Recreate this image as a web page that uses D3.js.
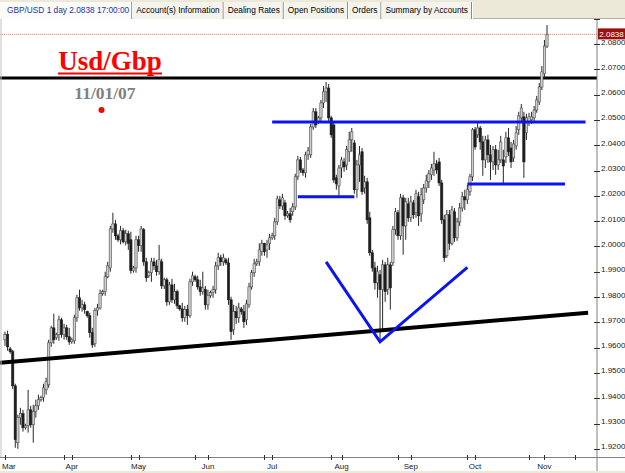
<!DOCTYPE html>
<html>
<head>
<meta charset="utf-8">
<script src="https://cdn.jsdelivr.net/npm/d3@7"></script>
<style>
  body { margin: 0; background: #fff; }
  svg { display: block; }
</style>
</head>
<body>
<div id="chart"></div>
<script>
// ---- data ----
// daily bars GBP/USD, [open, high, low, close], Mar 1 .. Nov 2 2007 (sunday bars included)
var bars = [
  [1.9631,1.9663,1.9607,1.9651],[1.9651,1.9667,1.9588,1.9603],[1.9595,1.9603,1.9576,1.9584],[1.9584,1.9591,1.9437,1.9449],
  [1.9449,1.9457,1.9204,1.9236],[1.9224,1.9335,1.9200,1.9323],[1.9323,1.9362,1.9295,1.9339],[1.9339,1.9354,1.9268,1.9283],
  [1.9283,1.9299,1.9276,1.9291],[1.9291,1.9433,1.9264,1.9354],[1.9354,1.9370,1.9283,1.9295],[1.9295,1.9374,1.9224,1.9347],
  [1.9347,1.9394,1.9323,1.9370],[1.9370,1.9414,1.9354,1.9394],[1.9394,1.9410,1.9386,1.9402],[1.9402,1.9457,1.9386,1.9441],
  [1.9433,1.9481,1.9414,1.9465],[1.9453,1.9631,1.9441,1.9619],[1.9619,1.9686,1.9603,1.9678],[1.9678,1.9734,1.9615,1.9631],
  [1.9639,1.9659,1.9631,1.9651],[1.9651,1.9726,1.9627,1.9710],[1.9710,1.9718,1.9639,1.9651],[1.9651,1.9694,1.9631,1.9678],
  [1.9678,1.9690,1.9631,1.9643],[1.9643,1.9678,1.9611,1.9623],[1.9623,1.9639,1.9615,1.9631],[1.9627,1.9730,1.9615,1.9718],
  [1.9718,1.9809,1.9702,1.9797],[1.9797,1.9829,1.9746,1.9757],[1.9757,1.9789,1.9742,1.9769],[1.9769,1.9781,1.9734,1.9750],
  [1.9742,1.9746,1.9718,1.9726],[1.9726,1.9738,1.9639,1.9659],[1.9659,1.9678,1.9599,1.9611],[1.9615,1.9757,1.9603,1.9746],
  [1.9746,1.9773,1.9726,1.9757],[1.9757,1.9829,1.9750,1.9813],[1.9813,1.9829,1.9805,1.9821],[1.9821,1.9900,1.9805,1.9880],
  [1.9880,1.9939,1.9874,1.9923],[1.9915,2.0081,1.9900,2.0069],[2.0069,2.0133,2.0054,2.0089],[2.0089,2.0105,2.0026,2.0042],
  [2.0042,2.0050,2.0018,2.0026],[2.0026,2.0081,2.0008,2.0062],[2.0062,2.0073,2.0012,2.0018],[2.0018,2.0066,2.0004,2.0050],
  [2.0050,2.0062,1.9986,2.0012],[2.0026,2.0058,1.9892,1.9904],[1.9904,1.9923,1.9896,1.9915],[1.9915,2.0042,1.9896,2.0026],
  [2.0026,2.0042,1.9979,2.0004],[2.0004,2.0081,1.9979,2.0069],[2.0066,2.0073,1.9923,1.9939],[1.9939,1.9955,1.9860,1.9876],
  [1.9884,1.9904,1.9876,1.9896],[1.9896,1.9955,1.9860,1.9939],[1.9939,1.9955,1.9907,1.9923],[1.9923,1.9947,1.9884,1.9900],
  [1.9900,2.0006,1.9888,1.9947],[1.9939,1.9951,1.9832,1.9844],[1.9844,1.9876,1.9832,1.9868],[1.9868,1.9876,1.9765,1.9781],
  [1.9781,1.9860,1.9769,1.9848],[1.9848,1.9872,1.9777,1.9789],[1.9789,1.9852,1.9773,1.9821],[1.9821,1.9829,1.9753,1.9765],
  [1.9765,1.9769,1.9746,1.9753],[1.9753,1.9777,1.9702,1.9718],[1.9718,1.9765,1.9702,1.9750],[1.9750,1.9769,1.9690,1.9726],
  [1.9726,1.9872,1.9718,1.9860],[1.9860,1.9900,1.9844,1.9884],[1.9880,1.9888,1.9860,1.9868],[1.9868,1.9884,1.9829,1.9840],
  [1.9840,1.9868,1.9805,1.9821],[1.9821,1.9900,1.9809,1.9836],[1.9829,1.9844,1.9750,1.9769],[1.9769,1.9829,1.9750,1.9805],
  [1.9805,1.9825,1.9797,1.9817],[1.9817,1.9844,1.9797,1.9829],[1.9829,1.9939,1.9813,1.9923],[1.9923,1.9975,1.9907,1.9955],
  [1.9955,1.9967,1.9923,1.9939],[1.9939,1.9971,1.9923,1.9955],[1.9947,1.9955,1.9927,1.9935],[1.9935,1.9955,1.9769,1.9789],
  [1.9789,1.9801,1.9631,1.9663],[1.9671,1.9769,1.9651,1.9742],[1.9742,1.9765,1.9694,1.9718],[1.9718,1.9777,1.9698,1.9757],
  [1.9753,1.9761,1.9730,1.9742],[1.9742,1.9769,1.9678,1.9702],[1.9710,1.9789,1.9690,1.9773],[1.9769,1.9856,1.9757,1.9840],
  [1.9840,1.9907,1.9829,1.9896],[1.9896,1.9951,1.9880,1.9931],[1.9931,1.9951,1.9923,1.9939],[1.9939,2.0012,1.9923,1.9986],
  [1.9979,2.0026,1.9963,2.0012],[2.0012,2.0014,1.9963,1.9979],[1.9986,2.0026,1.9955,2.0006],[2.0012,2.0050,1.9986,2.0034],
  [2.0034,2.0054,2.0026,2.0042],[2.0042,2.0113,2.0026,2.0097],[2.0097,2.0200,2.0085,2.0188],[2.0184,2.0200,2.0148,2.0160],
  [2.0160,2.0208,2.0144,2.0192],[2.0172,2.0184,2.0105,2.0121],[2.0121,2.0140,2.0113,2.0129],[2.0129,2.0152,2.0093,2.0105],
  [2.0137,2.0172,2.0121,2.0156],[2.0156,2.0287,2.0144,2.0275],[2.0275,2.0358,2.0263,2.0342],[2.0342,2.0354,2.0291,2.0302],
  [2.0302,2.0310,2.0279,2.0291],[2.0291,2.0374,2.0271,2.0362],[2.0362,2.0393,2.0342,2.0378],[2.0362,2.0484,2.0350,2.0472],
  [2.0472,2.0547,2.0461,2.0532],[2.0532,2.0547,2.0468,2.0480],[2.0492,2.0516,2.0484,2.0508],[2.0508,2.0579,2.0492,2.0567],
  [2.0567,2.0634,2.0547,2.0611],[2.0611,2.0650,2.0571,2.0626],[2.0626,2.0642,2.0496,2.0508],[2.0508,2.0516,2.0429,2.0441],
  [2.0480,2.0492,2.0251,2.0263],[2.0271,2.0283,2.0224,2.0247],[2.0239,2.0322,2.0196,2.0310],[2.0310,2.0354,2.0271,2.0342],
  [2.0334,2.0350,2.0295,2.0314],[2.0322,2.0397,2.0302,2.0382],[2.0374,2.0453,2.0334,2.0421],[2.0421,2.0468,2.0374,2.0453],
  [2.0409,2.0421,2.0208,2.0224],[2.0224,2.0342,2.0192,2.0322],[2.0322,2.0397,2.0255,2.0362],[2.0374,2.0389,2.0204,2.0216],
  [2.0231,2.0279,2.0208,2.0255],[2.0255,2.0271,2.0089,2.0105],[2.0113,2.0137,1.9963,1.9975],[1.9975,1.9986,1.9900,1.9915],
  [1.9915,1.9939,1.9829,1.9856],[1.9856,1.9923,1.9797,1.9900],[1.9888,1.9907,1.9627,1.9829],[1.9829,1.9947,1.9671,1.9927],
  [1.9927,1.9939,1.9781,1.9821],[1.9829,1.9955,1.9809,1.9927],[1.9927,1.9939,1.9750,1.9836],[1.9935,2.0081,1.9923,2.0066],
  [2.0066,2.0152,2.0046,2.0137],[2.0133,2.0144,2.0026,2.0042],[2.0042,2.0208,2.0026,2.0192],[2.0192,2.0204,1.9967,2.0081],
  [2.0081,2.0192,2.0026,2.0176],[2.0168,2.0192,2.0097,2.0113],[2.0113,2.0200,2.0097,2.0176],[2.0172,2.0184,2.0109,2.0125],
  [2.0133,2.0224,2.0113,2.0208],[2.0196,2.0216,2.0081,2.0121],[2.0129,2.0231,2.0097,2.0204],[2.0184,2.0247,2.0168,2.0231],
  [2.0231,2.0283,2.0212,2.0259],[2.0255,2.0302,2.0231,2.0287],[2.0283,2.0326,2.0263,2.0310],[2.0302,2.0374,2.0279,2.0326],
  [2.0326,2.0342,2.0287,2.0302],[2.0334,2.0350,2.0239,2.0251],[2.0251,2.0263,2.0089,2.0105],[2.0105,2.0125,1.9939,1.9955],
  [1.9963,2.0144,1.9955,2.0125],[2.0125,2.0144,1.9986,2.0012],[2.0012,2.0160,2.0004,2.0144],[2.0137,2.0152,2.0018,2.0034],
  [2.0034,2.0113,2.0022,2.0097],[2.0097,2.0172,2.0081,2.0152],[2.0152,2.0216,2.0137,2.0196],[2.0196,2.0224,2.0144,2.0184],
  [2.0184,2.0243,2.0168,2.0224],[2.0216,2.0287,2.0200,2.0275],[2.0275,2.0468,2.0259,2.0461],[2.0461,2.0472,2.0382,2.0393],
  [2.0441,2.0488,2.0429,2.0468],[2.0468,2.0476,2.0382,2.0413],[2.0413,2.0437,2.0279,2.0342],[2.0342,2.0437,2.0310,2.0421],
  [2.0421,2.0441,2.0330,2.0362],[2.0362,2.0401,2.0263,2.0334],[2.0334,2.0397,2.0302,2.0382],[2.0382,2.0401,2.0283,2.0322],
  [2.0322,2.0382,2.0302,2.0342],[2.0342,2.0437,2.0330,2.0413],[2.0342,2.0382,2.0251,2.0318],[2.0354,2.0453,2.0330,2.0429],
  [2.0429,2.0468,2.0358,2.0374],[2.0389,2.0413,2.0310,2.0334],[2.0350,2.0421,2.0334,2.0405],[2.0397,2.0476,2.0382,2.0449],
  [2.0461,2.0532,2.0441,2.0516],[2.0508,2.0563,2.0492,2.0547],[2.0512,2.0532,2.0271,2.0334],[2.0449,2.0524,2.0421,2.0508],
  [2.0492,2.0528,2.0476,2.0512],[2.0500,2.0532,2.0484,2.0512],[2.0508,2.0555,2.0492,2.0539],[2.0539,2.0595,2.0528,2.0579],
  [2.0571,2.0646,2.0559,2.0630],[2.0630,2.0713,2.0618,2.0690],[2.0682,2.0816,2.0666,2.0792],[2.0792,2.0875,2.0784,2.0838]
];

var y_ticks      = [1.92,1.93,1.94,1.95,1.96,1.97,1.98,1.99,2.00,2.01,2.02,2.03,2.04,2.05,2.06,2.07,2.08,2.09];
var month_labels = ["Mar","Apr","May","Jun","Jul","Aug","Sep","Oct","Nov"];
var month_starts = ["2007-03-01","2007-04-01","2007-05-01","2007-06-01","2007-07-01","2007-08-01","2007-09-02","2007-10-01","2007-11-01"];
var minor_ticks  = ["2007-03-28","2007-04-27","2007-05-27","2007-06-27","2007-07-27","2007-08-27","2007-09-27","2007-10-25","2007-11-15"];
var tabs         = ["GBP/USD 1 day 2.0838 17:00:00","Account(s) Information","Dealing Rates","Open Positions","Orders","Summary by Accounts"];
var last_price   = 2.0838;

// drawn studies
var resistance_black = 2.0666;
var trend_black  = [["2007-02-27",1.9540],["2007-11-21",1.9738]];
var blue_lines   = [
  [["2007-07-01",2.0492],["2007-11-20",2.0492]],
  [["2007-07-12",2.0196],["2007-08-07",2.0196]],
  [["2007-09-27",2.0247],["2007-11-11",2.0247]]
];
var blue_v       = [["2007-07-25",1.9939],["2007-08-19",1.9623],["2007-09-27",1.9917]];

// ---- calendar (forex days, saturdays skipped) ----
var fmt      = d3.utcFormat("%Y-%m-%d");
var calendar = d3.utcDay.range(new Date(Date.UTC(2007,1,20)), new Date(Date.UTC(2007,11,1)))
	.filter(function(d){ return d.getUTCDay() !== 6; })
	.map(fmt);
var cal_idx  = new Map(calendar.map(function(d,i){ return [d,i]; }));
var base     = cal_idx.get("2007-03-01");
var dates    = calendar.slice(base, base + bars.length);
function day(s){ return cal_idx.get(s) - base; }

// ---- scales ----
var width   = 625, height = 473;
var plot_r  = 597, plot_t = 19, plot_b = 457;

var x_scale = d3.scaleLinear()
	.domain([0, dates.length - 1])
	.range([5, 547]);

var y_scale = d3.scaleLinear()
	.domain([1.92, 2.08])
	.range([448.8, 44]);

var svg = d3.select("#chart").append("svg")
	.attr("width", width)
	.attr("height", height)
	.style("font-family", "'Liberation Sans', Arial, sans-serif");

svg.append("rect").attr("width", width).attr("height", height).attr("fill", "#fff");

svg.append("clipPath").attr("id", "plot")
	.append("rect").attr("x", 0).attr("y", plot_t).attr("width", plot_r).attr("height", plot_b - plot_t);

var plot = svg.append("g").attr("clip-path", "url(#plot)");

// left border
svg.append("line").attr("x1", 1).attr("x2", 1).attr("y1", plot_t).attr("y2", plot_b)
	.attr("stroke", "#c8c0c0");

// last price line
plot.append("line")
	.attr("x1", 0).attr("x2", plot_r)
	.attr("y1", y_scale(last_price)).attr("y2", y_scale(last_price))
	.attr("stroke", "#e08a8a").attr("stroke-dasharray", "1,1");

// black resistance
plot.append("line")
	.attr("x1", 0).attr("x2", plot_r)
	.attr("y1", y_scale(resistance_black)).attr("y2", y_scale(resistance_black))
	.attr("stroke", "#000").attr("stroke-width", 3);

// candles
var bw = 2.3;
plot.selectAll(".wick").data(bars).enter().append("line")
	.attr("class", "wick")
	.attr("x1", function(d,i){ return x_scale(i); })
	.attr("x2", function(d,i){ return x_scale(i); })
	.attr("y1", function(d){ return y_scale(d[1]); })
	.attr("y2", function(d){ return y_scale(d[2]); })
	.attr("stroke", "#282828").attr("stroke-width", 1);

plot.selectAll(".body").data(bars).enter().append("rect")
	.attr("class", "body")
	.attr("x", function(d,i){ return x_scale(i) - bw / 2; })
	.attr("y", function(d){ return y_scale(Math.max(d[0], d[3])); })
	.attr("width", bw)
	.attr("height", function(d){ return Math.max(1, Math.abs(y_scale(d[0]) - y_scale(d[3]))); })
	.attr("fill", function(d){ return d[3] >= d[0] ? "#d0d0d0" : "#1e1e1e"; })
	.attr("stroke", function(d){ return d[3] >= d[0] ? "#4a4a4a" : "#1e1e1e"; })
	.attr("stroke-width", 0.6);

// studies
var line = d3.line()
	.x(function(p){ return x_scale(day(p[0])); })
	.y(function(p){ return y_scale(p[1]); });

plot.append("path").attr("d", line(trend_black))
	.attr("fill", "none").attr("stroke", "#000").attr("stroke-width", 4);

plot.selectAll(".blue").data(blue_lines).enter().append("path")
	.attr("d", line)
	.attr("fill", "none").attr("stroke", "#0a14f0").attr("stroke-width", 3);

plot.append("path").attr("d", line(blue_v))
	.attr("fill", "none").attr("stroke", "#0a14f0").attr("stroke-width", 3);

// annotation text
svg.append("text").attr("x", 110).attr("y", 70)
	.attr("text-anchor", "middle")
	.style("font-family", "'Liberation Serif', 'Times New Roman', serif")
	.style("font-weight", "bold").style("font-size", "27px")
	.attr("fill", "#f00").text("Usd/Gbp");
svg.append("line").attr("x1", 58).attr("x2", 162).attr("y1", 73.5).attr("y2", 73.5)
	.attr("stroke", "#f00").attr("stroke-width", 2);

svg.append("text").attr("x", 105).attr("y", 99)
	.attr("text-anchor", "middle")
	.style("font-family", "'Liberation Serif', 'Times New Roman', serif")
	.style("font-weight", "bold").style("font-size", "17.5px")
	.attr("fill", "#808080").text("11/01/07");

svg.append("circle").attr("cx", 101.5).attr("cy", 110).attr("r", 3).attr("fill", "#f00");

// right price axis
svg.append("line").attr("x1", plot_r).attr("x2", plot_r).attr("y1", plot_t).attr("y2", 471)
	.attr("stroke", "#808080");

var y_axis = svg.append("g");
y_axis.selectAll("line").data(y_ticks).enter().append("line")
	.attr("x1", plot_r - 3).attr("x2", plot_r + 3)
	.attr("y1", function(d){ return Math.round(y_scale(d)) + 0.5; })
	.attr("y2", function(d){ return Math.round(y_scale(d)) + 0.5; })
	.attr("stroke", "#303030");
y_axis.selectAll("text").data(y_ticks).enter().append("text")
	.attr("x", 601)
	.attr("y", function(d){ return y_scale(d) + 0.5; })
	.style("font-size", "8px").attr("fill", "#202020")
	.text(function(d){ return d3.format(".4f")(d); });

// last price tag
svg.append("rect").attr("x", 598).attr("y", y_scale(last_price) - 6).attr("width", 27).attr("height", 11)
	.attr("fill", "#9a1010");
svg.append("text").attr("x", 611.5).attr("y", y_scale(last_price) + 2.5)
	.attr("text-anchor", "middle").style("font-size", "8px").attr("fill", "#fff")
	.text(d3.format(".4f")(last_price));

// bottom time axis
svg.append("line").attr("x1", 0).attr("x2", width).attr("y1", plot_b + 0.5).attr("y2", plot_b + 0.5)
	.attr("stroke", "#808080");

var t_axis = svg.append("g");
t_axis.selectAll(".mt").data(month_starts.concat(minor_ticks)).enter().append("line")
	.attr("x1", function(d){ return Math.round(x_scale(day(d))) + 0.5; })
	.attr("x2", function(d){ return Math.round(x_scale(day(d))) + 0.5; })
	.attr("y1", plot_b - 2).attr("y2", plot_b + 3)
	.attr("stroke", "#303030");
t_axis.selectAll("text").data(month_labels).enter().append("text")
	.attr("x", function(d,i){ return x_scale(day(month_starts[i])); })
	.attr("y", 469)
	.attr("text-anchor", function(d,i){ return i === 0 ? "start" : "middle"; })
	.attr("dx", function(d,i){ return i === 0 ? -3 : 0; })
	.style("font-size", "8px").attr("fill", "#202020")
	.text(function(d){ return d; });

// bottom strip
svg.append("rect").attr("x", 0).attr("y", 471).attr("width", width).attr("height", 2).attr("fill", "#ece9d8");

// tab bar
var bar = svg.append("g");
bar.append("rect").attr("width", width).attr("height", plot_t).attr("fill", "#ece9d8");
bar.append("line").attr("x1", 0).attr("x2", width).attr("y1", plot_t - 0.5).attr("y2", plot_t - 0.5)
	.attr("stroke", "#b8b4a4");

var tab_x = 0;
tabs.forEach(function(t, i){
	var g = bar.append("g");
	var bg = g.append("rect").attr("x", tab_x).attr("y", 2).attr("height", plot_t - 2)
		.attr("fill", i === 0 ? "#fbfbf9" : "#f4f3ee");
	var txt = g.append("text").attr("x", tab_x + (i === 0 ? 7 : 3)).attr("y", 13)
		.style("font-size", "8.3px")
		.attr("fill", i === 0 ? "#1c36a0" : "#000")
		.text(t);
	var w = txt.node().getComputedTextLength() + (i === 0 ? 9 : 6);
	bg.attr("width", w);
	g.append("line").attr("x1", tab_x + w + 0.5).attr("x2", tab_x + w + 0.5).attr("y1", 2).attr("y2", plot_t)
		.attr("stroke", "#8a8a80");
	g.append("line").attr("x1", tab_x + w + 1.5).attr("x2", tab_x + w + 1.5).attr("y1", 2).attr("y2", plot_t)
		.attr("stroke", "#fff");
	tab_x += w + 2;
});
</script>
</body>
</html>
